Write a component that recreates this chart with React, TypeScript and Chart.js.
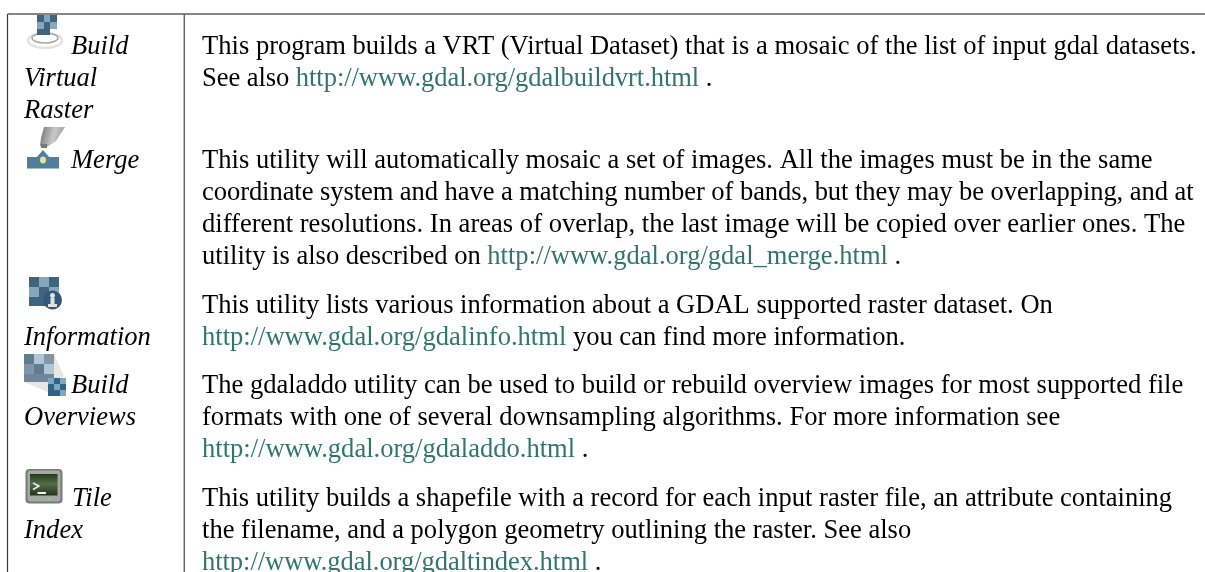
import React, { useEffect, useRef } from "react";
import { Chart, registerables } from "chart.js";

Chart.register(...registerables);

// Content: this reference is a documentation table, so its "data" is text.
const toolLabels: string[][] = [
  ["Build", "Virtual", "Raster"],
  ["Merge"],
  ["", "Information"],
  ["Build", "Overviews"],
  ["Tile", "Index"],
];
const descriptions: string[][] = [
  [
    "This program builds a VRT (Virtual Dataset) that is a mosaic of the list of input gdal datasets.",
    "See also |http://www.gdal.org/gdalbuildvrt.html| .",
  ],
  [
    "This utility will automatically mosaic a set of images. All the images must be in the same",
    "coordinate system and have a matching number of bands, but they may be overlapping, and at",
    "different resolutions. In areas of overlap, the last image will be copied over earlier ones. The",
    "utility is also described on |http://www.gdal.org/gdal_merge.html| .",
  ],
  [
    "This utility lists various information about a GDAL supported raster dataset. On",
    "|http://www.gdal.org/gdalinfo.html| you can find more information.",
  ],
  [
    "The gdaladdo utility can be used to build or rebuild overview images for most supported file",
    "formats with one of several downsampling algorithms. For more information see",
    "|http://www.gdal.org/gdaladdo.html| .",
  ],
  [
    "This utility builds a shapefile with a record for each input raster file, an attribute containing",
    "the filename, and a polygon geometry outlining the raster. See also",
    "|http://www.gdal.org/gdaltindex.html| .",
  ],
];
// Per-line tracking that compensates for the metric difference with the original font.
const lineTracking: number[][] = [
  [0.01, -0.06],
  [0.02, -0.066, 0.02, 0],
  [0, 0],
  [0, 0.01, 0],
  [0, 0, -0.05],
];

// Layout (page pixels, used as axis values)
const W = 1205;
const H = 572;
const topRule = 14;
const leftRule = 7.5;
const midRule = 184.3;
const rowBaselines = [54, 167.5, 312.5, 392.5, 506];
const lineStep = 32;
const firstLineIndent = [71, 71, 24, 71, 72];
const labelX = 24;
const textX = 202;
const FONT_SIZE = 26.55;
const INK = "#000000";
const LINK = "#327766";

type Ctx = CanvasRenderingContext2D;

function square(c: Ctx, x: number, y: number, w: number, h: number, col: string) {
  c.fillStyle = col;
  c.fillRect(x, y, w, h);
}

function iconBuildVrt(c: Ctx) {
  c.strokeStyle = "#e2e4e4";
  c.lineWidth = 2.5;
  c.beginPath();
  c.ellipse(45, 40.5, 17, 7.5, 0, 0, Math.PI * 2);
  c.stroke();
  c.strokeStyle = "#a5a9aa";
  c.lineWidth = 1.5;
  c.beginPath();
  c.ellipse(45, 38, 13, 5, 0, 0, Math.PI * 2);
  c.stroke();
  const d = "#3f6480", m = "#84a7bb";
  square(c, 37, 15, 7, 7, d);
  square(c, 44, 15, 6, 7, m);
  square(c, 50, 15, 7, 7, d);
  square(c, 37, 22, 7, 7, m);
  square(c, 44, 22, 6, 7, d);
  square(c, 50, 22, 7, 7, m);
  square(c, 37, 29, 13, 6, d);
}

function iconMerge(c: Ctx) {
  const g = c.createLinearGradient(42, 135, 64, 140);
  g.addColorStop(0, "#858585");
  g.addColorStop(0.5, "#c8c8c8");
  g.addColorStop(1, "#9b9b9b");
  c.fillStyle = g;
  c.beginPath();
  c.moveTo(44, 127);
  c.lineTo(65, 127);
  c.lineTo(56, 141);
  c.lineTo(47, 147);
  c.lineTo(40, 146);
  c.lineTo(41, 138);
  c.closePath();
  c.fill();
  square(c, 41, 144, 6, 4, "#777777");
  c.fillStyle = "#4f7f9c";
  c.fillRect(27, 157, 32, 11.5);
  c.beginPath();
  c.moveTo(43, 150);
  c.lineTo(50, 158);
  c.lineTo(36, 158);
  c.closePath();
  c.fill();
  c.fillStyle = "#e9e48b";
  c.beginPath();
  c.ellipse(43, 160, 3, 3.5, 0, 0, Math.PI * 2);
  c.fill();
}

function iconInfo(c: Ctx) {
  const d = "#3f6480", m = "#84a7bb";
  const xs = [29, 39, 49];
  const ys = [277, 287, 297];
  const cells = [
    [d, m, d],
    [m, d, m],
    [d, d, d],
  ];
  ys.forEach((y, r) =>
    xs.forEach((x, k) => square(c, x, y, 10, r === 2 ? 9 : 10, cells[r][k]))
  );
  c.fillStyle = "#325a77";
  c.beginPath();
  c.arc(52.5, 300, 9.5, 0, Math.PI * 2);
  c.fill();
  c.fillStyle = "#dfe3e3";
  c.beginPath();
  c.arc(52.5, 295.5, 2.5, 0, Math.PI * 2);
  c.fill();
  c.fillRect(50.5, 298, 4, 7);
  c.fillRect(48, 304, 9, 3);
}

function iconOverviews(c: Ctx) {
  const a = "#7f98a9", b = "#b2c5d2", e = "#5f7d91";
  square(c, 24, 354, 10, 10, e);
  square(c, 34, 354, 10, 10, b);
  square(c, 44, 354, 10, 10, a);
  square(c, 24, 364, 10, 10, a);
  square(c, 34, 364, 10, 10, e);
  square(c, 44, 364, 10, 10, b);
  square(c, 24, 374, 30, 8, "#6f8798");
  c.fillStyle = "#e6e6e6";
  c.beginPath();
  c.moveTo(54, 354);
  c.lineTo(64, 376);
  c.lineTo(50, 393);
  c.lineTo(24, 382);
  c.lineTo(54, 382);
  c.closePath();
  c.fill();
  const d = "#2f6387", m = "#7ea7c0";
  const xs = [48, 54, 60];
  const ys = [378, 384, 390];
  const t = [
    [m, d, m],
    [d, m, d],
    [d, d, m],
  ];
  ys.forEach((y, r) =>
    xs.forEach((x, k) => square(c, x, y, 6, 6, t[r][k]))
  );
}

function iconTerminal(c: Ctx) {
  c.fillStyle = "#777a76";
  c.beginPath();
  c.roundRect(25.5, 469, 37, 34.5, 4);
  c.fill();
  c.fillStyle = "#a6a8a4";
  c.beginPath();
  c.roundRect(27.5, 470.5, 33, 31, 3);
  c.fill();
  const g = c.createLinearGradient(0, 474, 0, 496);
  g.addColorStop(0, "#24381f");
  g.addColorStop(0.45, "#546d48");
  g.addColorStop(1, "#20301c");
  c.fillStyle = g;
  c.fillRect(30, 474, 27.5, 21.5);
  c.strokeStyle = "#e8ede6";
  c.lineWidth = 1.5;
  c.beginPath();
  c.moveTo(33, 483);
  c.lineTo(39, 486);
  c.lineTo(33, 489.5);
  c.stroke();
  square(c, 37.5, 492, 8.5, 2, "#f0f2ee");
  square(c, 48, 498, 2, 2, "#9ad36a");
}

const icons = [iconBuildVrt, iconMerge, iconInfo, iconOverviews, iconTerminal];

const tablePlugin = {
  id: "tableCells",
  beforeDraw(chart: any) {
    const c: Ctx = chart.ctx;
    c.save();
    c.fillStyle = "#ffffff";
    c.fillRect(0, 0, chart.width, chart.height);
    c.restore();
  },
  afterDatasetsDraw(chart: any) {
    const c: Ctx = chart.ctx;
    const sx = chart.scales.x;
    const sy = chart.scales.y;
    c.save();
    c.filter = "blur(0.6px)";
    icons.forEach((draw) => draw(c));
    c.filter = "blur(0.3px)";
    c.textBaseline = "alphabetic";
    c.fillStyle = INK;
    c.font = `italic ${FONT_SIZE}px "Liberation Serif"`;
    toolLabels.forEach((lines, r) => {
      lines.forEach((line, i) => {
        if (!line) return;
        const x = i === 0 ? firstLineIndent[r] : labelX;
        c.fillText(line, sx.getPixelForValue(x), sy.getPixelForValue(rowBaselines[r] + i * lineStep));
      });
    });
    c.font = `${FONT_SIZE}px "Liberation Serif"`;
    descriptions.forEach((lines, r) => {
      lines.forEach((line, i) => {
        const y = sy.getPixelForValue(rowBaselines[r] + i * lineStep);
        let x = sx.getPixelForValue(textX);
        (c as any).letterSpacing = `${lineTracking[r][i]}px`;
        line.split("|").forEach((part, k) => {
          c.fillStyle = k === 1 ? LINK : INK;
          c.fillText(part, x, y);
          x += c.measureText(part).width;
        });
      });
    });
    c.restore();
  },
};

export default function App() {
  const ref = useRef<HTMLCanvasElement>(null);
  useEffect(() => {
    const rule = (data: { x: number; y: number }[], color: string, width: number) => ({
      data,
      showLine: true,
      borderColor: color,
      borderWidth: width,
      pointRadius: 0,
      clip: false,
    });
    const chart = new Chart(ref.current!, {
      type: "scatter",
      data: {
        datasets: [
          rule([{ x: leftRule, y: topRule }, { x: W, y: topRule }], "#5f5f5f", 1.5),
          rule([{ x: leftRule, y: topRule }, { x: leftRule, y: H }], "#3a3a3a", 1.2),
          rule([{ x: midRule, y: topRule }, { x: midRule, y: H }], "#666666", 1.5),
        ],
      },
      options: {
        animation: false,
        responsive: false,
        layout: { padding: 0 },
        plugins: { legend: { display: false }, tooltip: { enabled: false }, title: { display: false } },
        scales: {
          x: { type: "linear", display: false, min: 0, max: W },
          y: { type: "linear", display: false, min: 0, max: H, reverse: true },
        },
      },
      plugins: [tablePlugin],
    });
    return () => chart.destroy();
  }, []);
  return (
    <canvas
      ref={ref}
      width={W}
      height={H}
      style={{ position: "absolute", left: 0, top: 0, display: "block" }}
    />
  );
}
